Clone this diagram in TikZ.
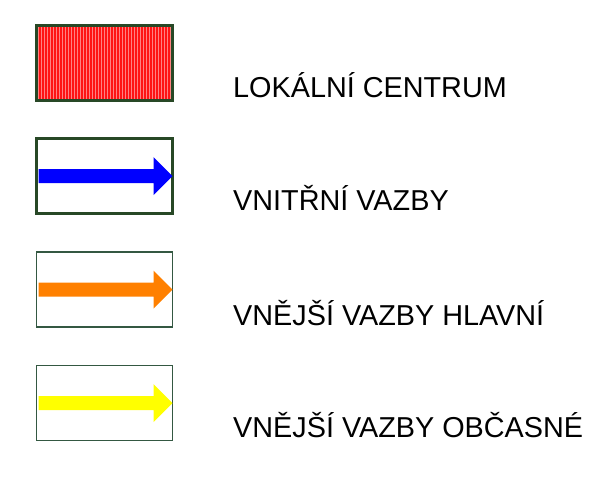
\documentclass[tikz,border=0pt]{standalone}
\usepackage{fontspec}
\setmainfont{Liberation Sans}
\usetikzlibrary{positioning}
\definecolor{boxgreen}{RGB}{40,72,38}
\definecolor{thingreen}{RGB}{52,88,66}
\definecolor{arrorange}{RGB}{255,128,0}
\definecolor{arryellow}{RGB}{255,255,0}
\definecolor{stripered}{RGB}{255,20,20}
\definecolor{stripepink}{RGB}{255,130,130}

\begin{document}
\begin{tikzpicture}
                [x=1pt, y=-1pt,
                bsty/.style={rectangle, minimum width=136pt, minimum height=75pt, inner sep=0pt},
                tsty/.style={anchor=base west, inner sep=0pt, font=\fontsize{28.8}{30}\selectfont},
                legarrow/.pic={\fill (-66,-7) -- (49,-7) -- (49,-19) -- (68,0) -- (49,19) -- (49,7) -- (-66,7) -- cycle;}]
                \useasboundingbox (0,0) rectangle (606,479);
                % boxes
                \node[bsty, fill=stripered] (centrum) at (104.5,63) {};
                \begin{scope}
                    \clip (centrum.south west) rectangle (centrum.north east);
                    \foreach \x in {38,41,...,172}
                        \draw[stripepink, line width=0.8pt] (\x,20) -- (\x,106);
                \end{scope}
                \node[bsty, draw=boxgreen, line width=3.5pt] at (centrum) {};
                \node[bsty, draw=boxgreen, line width=3.2pt] (vnitrni) at (104.5,176) {};
                \node[bsty, draw=thingreen, line width=1.8pt] (hlavni) at (104.5,289.5) {};
                \node[bsty, draw=thingreen, line width=1.8pt] (obcasne) at (104.5,403) {};
                % arrows
                \pic[blue] at (vnitrni) {legarrow};
                \pic[arrorange] at (hlavni) {legarrow};
                \pic[arryellow] at (obcasne) {legarrow};
                % labels
                \node[tsty] (lc) at (233,97) {LOKÁLNÍ CENTRUM};
                \node[tsty] (vv) at (233,210) {VNITŘNÍ VAZBY};
                \node[tsty] (vvh) at (233,325) {VNĚJŠÍ VAZBY HLAVNÍ};
                \node[tsty] (vvo) at (233,437) {VNĚJŠÍ VAZBY OBČASNÉ};
            \end{tikzpicture}
\end{document}
